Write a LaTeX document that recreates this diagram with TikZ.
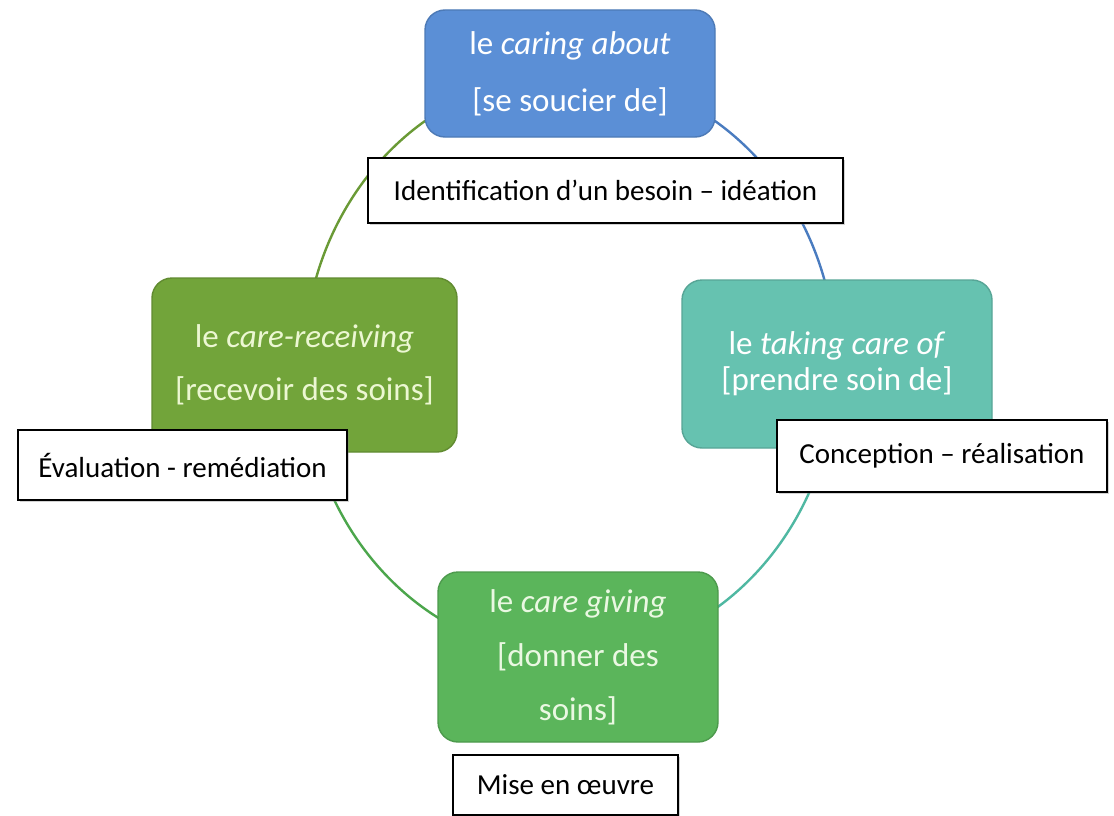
\documentclass[tikz,border=0pt]{standalone}
\usepackage{fontspec}
\setmainfont{Carlito}
\usetikzlibrary{backgrounds,shadows}
\definecolor{cblue}{HTML}{5B8FD6}
\definecolor{cblueD}{HTML}{4A7CC0}
\definecolor{colive}{HTML}{72A43A}
\definecolor{coliveD}{HTML}{6A9A36}
\definecolor{cteal}{HTML}{66C2B0}
\definecolor{ctealD}{HTML}{4FB8A2}
\definecolor{cgreen}{HTML}{5BB55B}
\definecolor{cgreenD}{HTML}{4CA64C}
\definecolor{tolive}{HTML}{ECF7D2}
\definecolor{tgreen}{HTML}{EAF8E2}
\tikzset{
  x=1pt, y=-1pt,
  phase/.style={rounded corners=20pt, draw=#1!85!black, line width=1.4pt, fill=#1,
    align=center, inner sep=0pt},
  tag/.style={draw=black, line width=2pt, fill=white, font=\fontsize{29}{34}\selectfont, inner sep=0pt,
    drop shadow={shadow xshift=1.5pt, shadow yshift=-1.5pt, opacity=0.35}},
  ring/.style={line width=2.4pt},
  ell/.style={x radius=266pt, y radius=291pt}
}
\begin{document}
\begin{tikzpicture}
\useasboundingbox (0,0) rectangle (1114,816);
\coordinate (c) at (570,365);
% phases
\node[phase=cblue, text=white, minimum width=290pt, minimum height=127pt, font=\fontsize{33}{57}\selectfont] (care) at (570,73.5)
  {le \textit{caring about}\\{[}se soucier de]};
\node[phase=cteal, text=white, minimum width=310pt, minimum height=168pt, font=\fontsize{33}{36}\selectfont] (take) at (837,364)
  {le \textit{taking care of}\\{[}prendre soin de]};
\node[phase=cgreen, text=tgreen, minimum width=280pt, minimum height=170pt, font=\fontsize{33}{54}\selectfont] (give) at (578,657)
  {le \textit{care giving}\\{[}donner des\\soins]};
\node[phase=colive, text=tolive, minimum width=305pt, minimum height=174pt, font=\fontsize{33}{53}\selectfont] (recv) at (304.5,365)
  {le \textit{care-receiving}\\{[}recevoir des soins]};
% ring
\begin{scope}[on background layer]
\fill[white] (0,0) rectangle (1114,816);
\draw[ring, cblueD] (c) ++(0,-291) arc[start angle=90, end angle=0, ell];
\draw[ring, ctealD] (c) ++(266,0) arc[start angle=0, end angle=-90, ell];
\draw[ring, cgreenD] (c) ++(0,291) arc[start angle=-90, end angle=-180, ell];
\draw[ring, coliveD] (c) ++(-266,0) arc[start angle=180, end angle=90, ell];
\end{scope}
% labels
\node[tag, minimum width=475pt, minimum height=65pt] (l1) at (605.5,190.5) {Identification d’un besoin – idéation};
\node[tag, minimum width=330pt, minimum height=72pt] (l2) at (942,456) {Conception – réalisation};
\node[tag, minimum width=225pt, minimum height=60pt] (l3) at (565.5,785) {Mise en œuvre};
\node[tag, minimum width=329pt, minimum height=70pt] (l4) at (182.5,465) {Évaluation - remédiation};
\end{tikzpicture}
\end{document}
